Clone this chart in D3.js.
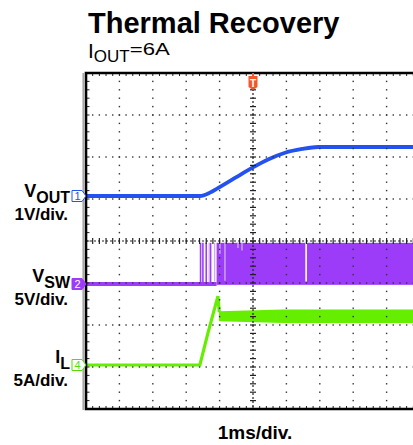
<!DOCTYPE html>
<html>
<head>
<meta charset="utf-8">
<script src="https://cdn.jsdelivr.net/npm/d3@7"></script>
<style>
  body { margin: 0; background: #fff; }
  svg { display: block; font-family: "Liberation Sans", Arial, sans-serif; }
</style>
</head>
<body>
<div id="scope"></div>
<script>
// Trace data (time in ms, trigger at 0)
const voutT = [-5, -1.59, -1.29, -1.05, -0.54, -0.03, 0.45, 0.96, 1.47, 1.95, 5];
const voutV = [0, 0, 0.08, 0.19, 0.43, 0.67, 0.87, 1.03, 1.12, 1.167, 1.167];

const swHigh = 4.9;
const swStart = -1.09;
const swPulseT = [-1.57, -1.50, -1.40, -1.27];
const swPaleT = [-1.31, -1.15, -0.99, -0.84, -0.45, -0.33];
const swPaleV0 = [0.2, 0.3, 3.6, 0.4, 4.3, 4.0];
const swGapT = [1.59];
const swGapV0 = [0.3];

const ilT = [-5, -1.59, -1.35, -1.05, -1.01];
const ilA = [0, 0, 3.8, 8.2, 6.3];
const ilBandT = [-1.02, 0.9, 5];
const ilHi = [6.4, 6.6, 6.6];
const ilLo = [5.2, 5.0, 5.0];

// Layout
const W = 413, H = 445;
const plot = { left: 86, top: 73, bottom: 409 };
const divX = 33.4, divY = 42;

const svg = d3.select("#scope").append("svg")
  .attr("width", W).attr("height", H);

// Scales
const x = d3.scaleLinear().domain([-5, 5]).range([plot.left, plot.left + 10 * divX]);
const yGrid = d3.scaleLinear().domain([-4, 4]).range([plot.bottom, plot.top]);
const yVout = d3.scaleLinear().domain([0, 1]).range([196, 196 - divY]);
const yVsw = d3.scaleLinear().domain([0, 5]).range([284, 284 - divY]);
const yIL = d3.scaleLinear().domain([0, 5]).range([365, 365 - divY]);

svg.append("clipPath").attr("id", "clip")
  .append("rect")
  .attr("x", plot.left + 1).attr("y", plot.top + 1)
  .attr("width", W - plot.left).attr("height", plot.bottom - plot.top - 2);

const g = svg.append("g").attr("clip-path", "url(#clip)");

// VSW trace
g.append("line")
  .attr("x1", x(-5)).attr("x2", x(swStart))
  .attr("y1", yVsw(0)).attr("y2", yVsw(0))
  .attr("stroke", "#9c3cf8").attr("stroke-width", 4);
g.append("rect")
  .attr("x", x(swStart)).attr("y", yVsw(swHigh))
  .attr("width", x(5) - x(swStart))
  .attr("height", yVsw(-0.1) - yVsw(swHigh))
  .attr("fill", "#9c3cf8");
g.selectAll(".pulse").data(swPulseT).enter().append("line")
  .attr("x1", d => x(d)).attr("x2", d => x(d))
  .attr("y1", yVsw(-0.1)).attr("y2", yVsw(swHigh))
  .attr("stroke", "#9c3cf8").attr("stroke-width", 1.6);
g.selectAll(".pale").data(swPaleT).enter().append("line")
  .attr("x1", d => x(d)).attr("x2", d => x(d))
  .attr("y1", (d, i) => yVsw(swPaleV0[i])).attr("y2", yVsw(swHigh))
  .attr("stroke", "#cfa8fb").attr("stroke-width", 1.4);
g.selectAll(".gap").data(swGapT).enter().append("line")
  .attr("x1", d => x(d)).attr("x2", d => x(d))
  .attr("y1", (d, i) => yVsw(swGapV0[i])).attr("y2", yVsw(swHigh))
  .attr("stroke", "#fff").attr("stroke-width", 1.6);

// IL trace
g.append("path")
  .datum(ilBandT)
  .attr("fill", "#66ee00")
  .attr("d", d3.area()
    .x(d => x(d))
    .y0((d, i) => yIL(ilLo[i]))
    .y1((d, i) => yIL(ilHi[i])));
g.append("path")
  .datum(ilT)
  .attr("fill", "none").attr("stroke", "#66ee00").attr("stroke-width", 3.2)
  .attr("d", d3.line().x(d => x(d)).y((d, i) => yIL(ilA[i])));

// VOUT trace
g.append("path")
  .datum(voutT)
  .attr("fill", "none").attr("stroke", "#2352f0").attr("stroke-width", 3.8)
  .attr("d", d3.line().curve(d3.curveMonotoneX).x(d => x(d)).y((d, i) => yVout(voutV[i])));

// Grid dots
const grid = svg.append("g").attr("clip-path", "url(#clip)").attr("fill", "#333");
const minorX = d3.range(-50, 51).map(d => d / 5);
const minorY = d3.range(-20, 21).map(d => d / 5);
[-4, -3, -2, -1, 1, 2, 3, 4].forEach(gy => {
  grid.selectAll(null).data(minorX).enter().append("rect")
    .attr("x", d => x(d) - 0.7).attr("y", yGrid(gy) - 0.7)
    .attr("width", 1.4).attr("height", 1.4);
});
[-4, -3, -2, -1, 1, 2, 3, 4].forEach(gx => {
  grid.selectAll(null).data(minorY).enter().append("rect")
    .attr("x", x(gx) - 0.7).attr("y", d => yGrid(d) - 0.7)
    .attr("width", 1.4).attr("height", 1.4);
});

// Centre crosshair
const cross = svg.append("g").attr("clip-path", "url(#clip)").attr("stroke", "#222");
cross.append("line")
  .attr("x1", x(0)).attr("x2", x(0)).attr("y1", plot.top).attr("y2", plot.bottom)
  .attr("stroke-dasharray", "2,2").attr("stroke-width", 1.2);
cross.append("line")
  .attr("x1", plot.left).attr("x2", W).attr("y1", yGrid(0)).attr("y2", yGrid(0))
  .attr("stroke-dasharray", "2,2").attr("stroke-width", 1.2);
cross.selectAll(null).data(minorY).enter().append("line")
  .attr("x1", x(0) - 3).attr("x2", x(0) + 3)
  .attr("y1", d => yGrid(d)).attr("y2", d => yGrid(d)).attr("stroke-width", 1.2);
cross.selectAll(null).data(minorX).enter().append("line")
  .attr("x1", d => x(d)).attr("x2", d => x(d))
  .attr("y1", yGrid(0) - 3).attr("y2", yGrid(0) + 3).attr("stroke-width", 1.2);

// Frame ticks
cross.selectAll(null).data(minorX).enter().append("line")
  .attr("x1", d => x(d)).attr("x2", d => x(d))
  .attr("y1", plot.top).attr("y2", plot.top + 3).attr("stroke-width", 1);
cross.selectAll(null).data(minorX).enter().append("line")
  .attr("x1", d => x(d)).attr("x2", d => x(d))
  .attr("y1", plot.bottom - 3).attr("y2", plot.bottom).attr("stroke-width", 1);
cross.selectAll(null).data(minorY).enter().append("line")
  .attr("x1", plot.left).attr("x2", plot.left + 3.5)
  .attr("y1", d => yGrid(d)).attr("y2", d => yGrid(d)).attr("stroke-width", 1);

// Frame
svg.append("line")
  .attr("x1", plot.left - 2.8).attr("x2", plot.left - 2.8)
  .attr("y1", plot.top).attr("y2", plot.bottom + 1)
  .attr("stroke", "#a8a8a8").attr("stroke-width", 1.6);
svg.append("path")
  .attr("d", `M${W},${plot.top}H${plot.left}V${plot.bottom}H${W}`)
  .attr("fill", "none").attr("stroke", "#000").attr("stroke-width", 2.6);

// Trigger marker
const tx = x(0);
svg.append("path")
  .attr("d", `M${tx - 1},${plot.top}V${plot.top + 3}H${tx - 4.5}V${plot.top + 14}L${tx},${plot.top + 17}L${tx + 4.5},${plot.top + 14}V${plot.top + 3}H${tx + 1}V${plot.top}Z`)
  .attr("fill", "#f2592a");
svg.append("text")
  .attr("x", tx).attr("y", plot.top + 13.5)
  .attr("text-anchor", "middle").attr("font-size", 10).attr("font-weight", "bold")
  .attr("fill", "#fff").text("T");

// Channel markers
function marker(y, label, color, filled) {
  const x0 = 72, x1 = 82, tip = 86, h = 5.5;
  svg.append("path")
    .attr("d", `M${x0},${y - h}H${x1}L${tip},${y}L${x1},${y + h}H${x0}Z`)
    .attr("fill", filled ? color : "#fff")
    .attr("stroke", color).attr("stroke-width", 1);
  svg.append("text")
    .attr("x", 77.5).attr("y", y + 4)
    .attr("text-anchor", "middle").attr("font-size", 11)
    .attr("fill", filled ? "#fff" : color).text(label);
}
marker(yVout(0), "1", "#2352f0", false);
marker(yVsw(0), "2", "#9c3cf8", true);
marker(yIL(0), "4", "#55dd00", false);

// Title
svg.append("text")
  .attr("x", 88).attr("y", 33)
  .attr("font-size", 29).attr("font-weight", "bold")
  .text("Thermal Recovery");

const sub = svg.append("text").attr("x", 88).attr("y", 58).attr("font-size", 21);
sub.append("tspan").text("I");
sub.append("tspan").attr("dy", 4).attr("font-size", 17).text("OUT");
sub.append("tspan").attr("dy", -7).attr("font-size", 17)
  .attr("textLength", 40).attr("lengthAdjust", "spacingAndGlyphs").text("=6A");

// Channel labels
function chLabel(yMain, main, subTxt, scale) {
  const t = svg.append("text")
    .attr("x", 70).attr("y", yMain)
    .attr("text-anchor", "end").attr("font-weight", "bold");
  t.append("tspan").attr("font-size", 18).text(main);
  t.append("tspan").attr("dy", 6).attr("font-size", 16).text(subTxt);
  svg.append("text")
    .attr("x", 68).attr("y", yMain + 23)
    .attr("text-anchor", "end").attr("font-weight", "bold").attr("font-size", 17)
    .text(scale);
}
chLabel(197, "V", "OUT", "1V/div.");
chLabel(282, "V", "SW", "5V/div.");
chLabel(363, "I", "L", "5A/div.");

// Time base
svg.append("text")
  .attr("x", x(0) + 2).attr("y", 439)
  .attr("text-anchor", "middle").attr("font-weight", "bold").attr("font-size", 19)
  .text("1ms/div.");
</script>
</body>
</html>
